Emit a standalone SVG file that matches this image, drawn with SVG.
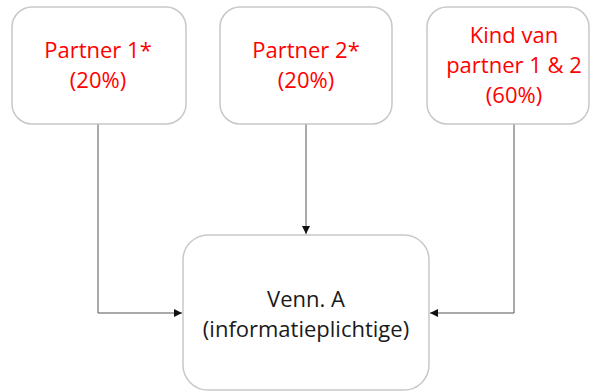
<svg xmlns="http://www.w3.org/2000/svg" width="591" height="392" viewBox="0 0 591 392">
<style>
.box{fill:#fff;stroke:#c8c8c8;stroke-width:1.5}
.red{font-family:"Open Sans","Liberation Sans",sans-serif;font-size:22px;fill:#ff0000;text-anchor:middle}
.blk{font-family:"Open Sans","Liberation Sans",sans-serif;font-size:22px;fill:#1a1a1a;text-anchor:middle}
.con{fill:none;stroke:#555;stroke-width:1}
</style>
<defs>
<marker id="arr" viewBox="0 0 10 10" refX="10" refY="5" markerWidth="8" markerHeight="8" markerUnits="userSpaceOnUse" orient="auto">
<path d="M0,0 L10,5 L0,10 z" fill="#111"/>
</marker>
</defs>
<rect width="591" height="392" fill="#fff"/>
<g id="connectors">
<path class="con" d="M98,124 V313 H182" marker-end="url(#arr)"/>
<path class="con" d="M306,124 V234" marker-end="url(#arr)"/>
<path class="con" d="M514,124 V313 H430" marker-end="url(#arr)"/>
</g>
<g id="partner1">
<rect class="box" x="12" y="7" width="174" height="117" rx="20"/>
<text class="red" x="98" y="58">Partner 1*</text>
<text class="red" x="98" y="88">(20%)</text>
</g>
<g id="partner2">
<rect class="box" x="220" y="7" width="172" height="117" rx="20"/>
<text class="red" x="306" y="58">Partner 2*</text>
<text class="red" x="306" y="88">(20%)</text>
</g>
<g id="kind">
<rect class="box" x="427" y="7" width="162" height="117" rx="20"/>
<text class="red" x="514" y="43">Kind van</text>
<text class="red" x="514" y="73">partner 1 &amp; 2</text>
<text class="red" x="514" y="103">(60%)</text>
</g>
<g id="venn">
<rect class="box" x="183" y="235" width="246" height="155" rx="25"/>
<text class="blk" x="306" y="307">Venn. A</text>
<text class="blk" x="306" y="337">(informatieplichtige)</text>
</g>
</svg>
